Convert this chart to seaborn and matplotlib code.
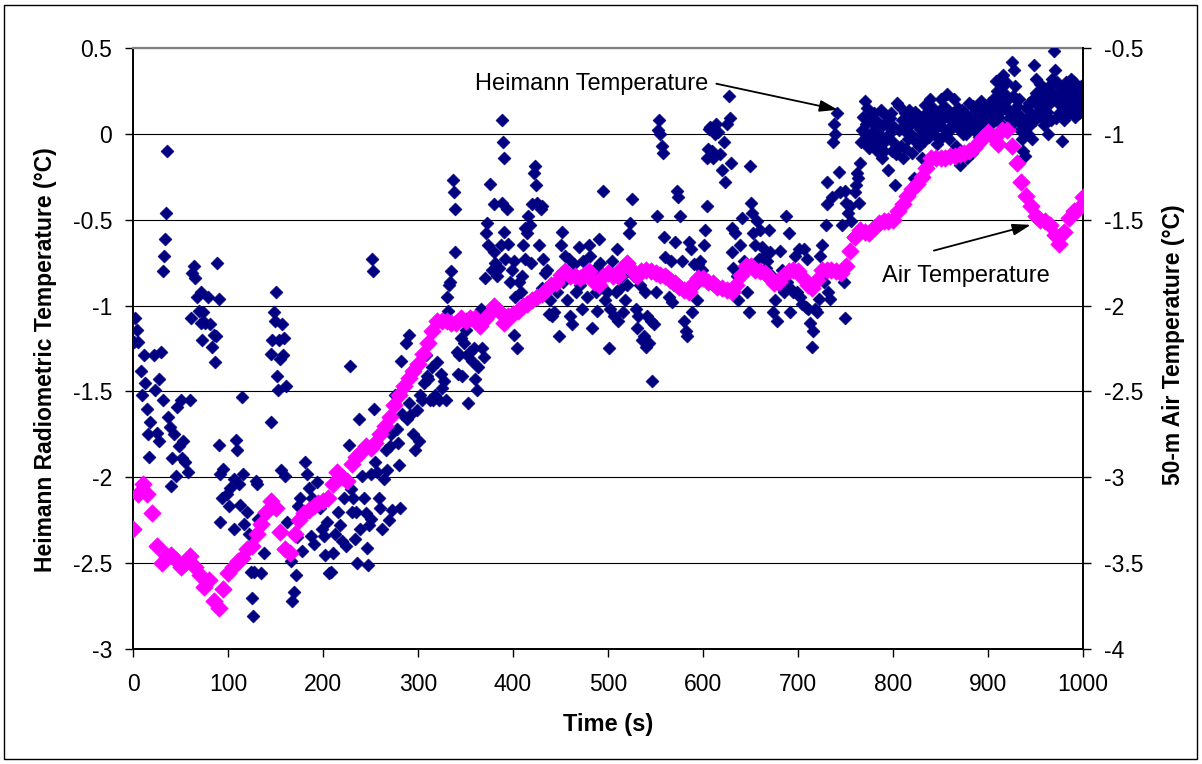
"""Heimann radiometric temperature vs 50-m air temperature over a 1000 s run.

Navy diamonds: Heimann radiometric temperature (left axis).
Magenta diamonds: 50-m air temperature (right axis).
"""

import matplotlib

matplotlib.use("Agg")
import matplotlib.pyplot as plt
import numpy as np
import pandas as pd
import seaborn as sns
from matplotlib.patches import Rectangle
from matplotlib.ticker import FuncFormatter

OUTPUT = "out.png"
NAVY = "#000080"
MAGENTA = "#FF00FF"

# 50-m air temperature (degC, right axis), one reading every 5 s
AIR_TIME = np.arange(0, 1001, 5)
AIR_TEMP = [
    -3.30, -3.10, -3.04, -3.10, -3.21, -3.40, -3.50, -3.45, -3.45, -3.48,
    -3.52, -3.50, -3.46, -3.52, -3.57, -3.64, -3.60, -3.72, -3.76, -3.65,
    -3.56, -3.52, -3.49, -3.47, -3.42, -3.40, -3.33, -3.27, -3.20, -3.14,
    -3.18, -3.32, -3.42, -3.44, -3.33, -3.25, -3.21, -3.19, -3.17, -3.15,
    -3.14, -3.12, -3.04, -2.97, -3.00, -3.02, -2.92, -2.88, -2.85, -2.82,
    -2.83, -2.80, -2.75, -2.70, -2.65, -2.58, -2.52, -2.47, -2.42, -2.38,
    -2.34, -2.28, -2.22, -2.15, -2.09, -2.09, -2.09, -2.10, -2.10, -2.07,
    -2.09, -2.07, -2.07, -2.12, -2.08, -2.05, -2.00, -2.03, -2.10, -2.06,
    -2.05, -2.03, -2.00, -1.99, -1.97, -1.95, -1.93, -1.91, -1.88, -1.87,
    -1.82, -1.80, -1.83, -1.83, -1.84, -1.82, -1.80, -1.86, -1.88, -1.83,
    -1.81, -1.83, -1.83, -1.78, -1.75, -1.79, -1.83, -1.80, -1.79, -1.80,
    -1.81, -1.82, -1.83, -1.85, -1.87, -1.89, -1.91, -1.92, -1.87, -1.84,
    -1.84, -1.86, -1.87, -1.89, -1.90, -1.91, -1.92, -1.88, -1.82, -1.77,
    -1.77, -1.79, -1.80, -1.81, -1.84, -1.87, -1.86, -1.82, -1.80, -1.79,
    -1.80, -1.84, -1.88, -1.90, -1.85, -1.79, -1.79, -1.79, -1.80, -1.81,
    -1.77, -1.68, -1.60, -1.56, -1.57, -1.58, -1.55, -1.52, -1.51, -1.51,
    -1.50, -1.45, -1.41, -1.36, -1.32, -1.29, -1.25, -1.20, -1.14, -1.14,
    -1.14, -1.14, -1.13, -1.13, -1.12, -1.11, -1.10, -1.08, -1.05, -1.02,
    -0.99, -1.02, -1.06, -0.98, -0.98, -1.07, -1.17, -1.28, -1.36, -1.42,
    -1.48, -1.50, -1.51, -1.53, -1.59, -1.64, -1.57, -1.49, -1.45, -1.44,
    -1.37,
]

# Heimann radiometric temperature (degC, left axis) as (time s, temperature)
HEIMANN_READINGS = [
    # 0-200 s
    (1, -1.21), (2, -1.07), (4, -1.14), (5, -1.21), (8, -1.38), (9, -1.52),
    (11, -1.29), (13, -1.45), (15, -1.60), (16, -1.75), (17, -1.88), (18, -1.68),
    (22, -1.29), (23, -1.49), (25, -1.74), (27, -1.79), (27, -1.43), (29, -1.27),
    (31, -1.55), (32, -0.80), (33, -0.71), (34, -0.61), (35, -0.46), (36, -0.10),
    (37, -1.65), (39, -1.71), (40, -2.05), (41, -1.89), (43, -1.75), (45, -1.99),
    (46, -1.59), (48, -1.82), (50, -1.55), (52, -1.89), (53, -1.79), (55, -1.91),
    (58, -1.97), (60, -1.55), (61, -1.07), (62, -0.81), (64, -0.77), (65, -0.84),
    (67, -0.95), (69, -1.03), (71, -0.92), (72, -1.10), (73, -1.20), (74, -1.04),
    (76, -1.10), (79, -0.95), (81, -1.11), (83, -1.24), (85, -1.17), (86, -1.33),
    (87, -1.18), (88, -0.75), (90, -0.96), (90, -1.81), (91, -2.26), (92, -1.98),
    (94, -2.12), (95, -1.95), (99, -2.10), (101, -2.17), (102, -2.06), (106, -2.01),
    (106, -2.30), (108, -1.78), (109, -1.84), (111, -2.04), (113, -2.16), (115, -1.53),
    (116, -1.98), (117, -2.27), (120, -2.20), (122, -2.33), (124, -2.55), (125, -2.70),
    (126, -2.81), (127, -2.55), (129, -2.02), (130, -2.04), (131, -2.24), (134, -2.28),
    (135, -2.56), (138, -2.44), (139, -2.21), (145, -1.68), (145, -1.28), (146, -1.20),
    (148, -1.04), (149, -1.09), (150, -0.92), (152, -1.41), (153, -1.49), (154, -1.20),
    (155, -1.31), (156, -1.96), (157, -1.11), (158, -1.29), (159, -1.19), (160, -1.99),
    (161, -1.47), (162, -2.26), (166, -2.49), (167, -2.72), (169, -2.67), (171, -2.57),
    (173, -2.35), (174, -2.17), (176, -2.12), (178, -2.43), (181, -1.91), (183, -1.98),
    (185, -2.06), (187, -2.34), (188, -2.12), (190, -2.39), (194, -2.03), (197, -2.18),
    (199, -2.30),
    # 200-400 s
    (201, -2.34), (202, -2.45), (204, -2.26), (206, -2.56), (208, -2.55), (211, -2.44),
    (213, -2.33), (216, -2.20), (218, -2.28), (220, -2.37), (222, -2.12), (224, -2.40),
    (227, -1.81), (228, -1.35), (229, -2.07), (231, -2.20), (232, -2.12), (234, -2.36),
    (235, -2.20), (236, -2.50), (238, -1.66), (239, -2.30), (241, -1.99), (243, -2.12),
    (245, -2.21), (246, -2.41), (247, -2.51), (248, -2.28), (250, -1.98), (251, -2.24),
    (252, -0.73), (253, -0.80), (254, -1.60), (255, -1.91), (257, -1.97), (259, -2.12),
    (260, -2.18), (262, -2.30), (264, -2.01), (266, -1.84), (267, -1.96), (269, -2.25),
    (271, -1.82), (272, -1.75), (273, -2.19), (276, -1.52), (278, -1.72), (279, -1.80),
    (280, -1.93), (281, -2.18), (282, -1.32), (283, -1.63), (287, -1.22), (288, -1.66),
    (290, -1.17), (291, -1.57), (292, -1.64), (295, -1.75), (297, -1.84), (299, -1.61),
    (301, -1.79), (302, -1.52), (304, -1.55), (306, -1.45), (308, -1.29), (309, -1.41),
    (311, -1.43), (313, -1.55), (315, -1.36), (316, -1.55), (318, -1.52), (320, -1.33),
    (322, -1.55), (324, -1.40), (325, -1.48), (327, -1.44), (329, -1.55), (331, -0.95),
    (332, -1.03), (333, -0.88), (334, -0.86), (335, -0.80), (337, -0.27), (338, -0.34),
    (339, -0.44), (339, -0.69), (340, -1.11), (341, -1.27), (342, -1.40), (343, -1.29),
    (345, -1.19), (346, -1.41), (348, -1.22), (350, -1.14), (352, -1.29), (353, -1.57),
    (355, -1.27), (357, -1.32), (359, -1.25), (360, -1.43), (362, -1.49), (363, -1.36),
    (366, -1.02), (367, -1.25), (369, -1.30), (371, -0.84), (372, -0.58), (373, -0.52),
    (374, -0.65), (376, -0.29), (378, -0.79), (380, -0.41), (380, -0.69), (381, -0.75),
    (383, -0.83), (385, -0.78), (387, -0.65), (388, -0.40), (388, 0.08), (389, -0.05),
    (390, -0.14), (391, -0.57), (392, -0.73), (394, -0.44), (395, -0.64), (397, -0.86),
    (399, -0.79),
    # 400-600 s
    (401, -0.74), (401, -1.17), (402, -0.95), (404, -1.25), (406, -0.86), (408, -0.92),
    (409, -0.83), (411, -0.65), (413, -0.55), (413, -0.73), (415, -0.58), (416, -0.48),
    (418, -0.53), (419, -0.75), (420, -0.41), (422, -0.23), (423, -0.19), (424, -0.30),
    (425, -0.40), (427, -0.65), (429, -0.44), (431, -0.42), (431, -0.90), (432, -0.73),
    (434, -0.81), (436, -0.79), (438, -1.05), (439, -0.97), (441, -1.06), (443, -1.04),
    (446, -0.92), (448, -1.18), (450, -0.65), (452, -0.57), (453, -0.86), (455, -0.71),
    (457, -0.97), (459, -0.73), (460, -1.06), (462, -1.11), (464, -0.76), (466, -0.92),
    (467, -0.83), (469, -0.66), (471, -0.88), (473, -1.02), (474, -0.74), (476, -0.83),
    (478, -0.95), (480, -0.65), (481, -0.71), (483, -1.13), (485, -0.79), (487, -0.92),
    (488, -1.03), (490, -0.61), (492, -0.75), (494, -0.81), (495, -0.33), (497, -0.97),
    (499, -0.92), (501, -1.25), (502, -1.02), (504, -0.74), (506, -1.06), (508, -0.92),
    (509, -0.67), (511, -1.09), (513, -0.90), (515, -0.83), (516, -1.04), (518, -0.97),
    (520, -0.88), (522, -0.58), (523, -0.52), (525, -0.38), (527, -0.83), (529, -1.02),
    (531, -1.13), (532, -1.06), (534, -0.88), (536, -1.20), (538, -1.18), (539, -0.92),
    (540, -1.24), (541, -1.06), (543, -1.22), (545, -1.09), (546, -1.44), (548, -1.11),
    (550, -0.92), (552, -0.48), (553, 0.02), (554, 0.08), (555, 0.00), (557, -0.07),
    (558, -0.11), (559, -0.60), (560, -0.72), (562, -0.83), (564, -0.95), (566, -0.74),
    (567, -0.98), (569, -0.88), (571, -0.63), (573, -0.33), (574, -0.37), (576, -0.48),
    (578, -0.74), (580, -1.09), (582, -1.15), (583, -1.18), (585, -0.63), (587, -0.67),
    (588, -1.04), (590, -0.76), (592, -0.88), (594, -0.97), (595, -0.76), (597, -0.74),
    (599, -0.79),
    # 600-800 s
    (601, -0.65), (602, -0.56), (604, -0.42), (604, -0.14), (605, -0.09), (606, 0.03),
    (607, 0.04), (609, -0.10), (611, -0.14), (613, 0.00), (614, 0.06), (616, 0.01),
    (618, -0.12), (620, -0.21), (622, -0.05), (623, -0.28), (625, 0.06), (627, 0.22),
    (628, 0.09), (629, -0.17), (630, -0.55), (631, -0.69), (632, -0.78), (634, -0.58),
    (636, -0.83), (637, -0.97), (639, -0.65), (641, -0.49), (643, -0.74), (646, -0.92),
    (648, -1.04), (649, -0.19), (650, -0.40), (652, -0.46), (653, -0.58), (655, -0.65),
    (657, -0.51), (659, -0.73), (660, -0.56), (662, -0.66), (664, -0.71), (666, -0.78),
    (667, -0.74), (669, -0.56), (671, -0.69), (673, -0.83), (674, -1.04), (676, -0.97),
    (678, -1.09), (680, -0.88), (681, -0.68), (683, -0.79), (685, -0.92), (687, -0.48),
    (688, -0.86), (690, -0.58), (692, -1.04), (694, -0.91), (695, -0.92), (697, -0.71),
    (699, -0.92), (701, -0.67), (702, -0.95), (704, -0.99), (706, -0.67), (708, -1.01),
    (709, -0.73), (711, -1.02), (713, -1.10), (715, -1.24), (716, -1.15), (718, -1.02),
    (720, -1.04), (722, -0.96), (723, -0.71), (725, -0.65), (727, -0.86), (729, -0.53),
    (730, -0.28), (731, -0.41), (732, -0.92), (734, -0.96), (736, -0.37), (737, -0.05),
    (738, 0.06), (739, 0.00), (741, 0.12), (743, -0.22), (744, -0.34), (746, -0.53),
    (748, -0.86), (749, -1.07), (749, -0.33), (751, -0.40), (753, -0.46), (755, -0.42),
    (756, -0.51), (758, -0.60), (760, -0.34), (761, -0.30), (762, -0.23), (763, -0.26),
    (764, -0.40), (765, -0.17), (766, -0.05), (767, 0.02), (768, 0.10), (769, -0.05),
    (770, 0.19), (771, 0.00), (772, 0.06), (773, 0.15), (774, -0.03), (775, -0.08),
    (776, 0.11), (777, 0.08), (778, 0.01), (779, -0.07), (780, 0.12), (781, 0.05),
    (782, -0.02), (783, -0.10), (784, 0.07), (785, 0.00), (786, -0.06), (787, 0.14),
    (788, -0.14), (789, 0.05), (790, -0.05), (791, -0.10), (792, 0.11), (793, 0.06),
    (794, -0.02), (795, -0.21), (796, 0.00), (797, 0.09), (798, 0.12), (799, -0.10),
    # 800-1000 s
    (800, -0.05), (801, 0.04), (802, -0.30), (803, -0.12), (804, 0.18), (805, -0.08),
    (806, 0.02), (806, 0.16), (808, -0.07), (809, 0.08), (811, -0.14), (812, 0.02),
    (813, 0.12), (814, -0.09), (815, 0.04), (816, -0.03), (817, 0.14), (818, 0.09),
    (819, 0.00), (820, -0.11), (821, 0.07), (822, -0.26), (823, 0.13), (824, -0.05),
    (825, 0.06), (826, 0.11), (827, -0.07), (828, 0.03), (829, 0.00), (830, -0.14),
    (831, 0.06), (832, 0.10), (833, -0.04), (834, 0.17), (835, 0.12), (836, 0.02),
    (837, 0.08), (838, -0.02), (839, 0.20), (840, 0.07), (841, 0.13), (842, 0.15),
    (843, 0.00), (844, 0.10), (845, 0.04), (846, -0.06), (847, 0.10), (848, 0.05),
    (849, -0.03), (850, 0.13), (851, 0.20), (852, 0.08), (853, -0.14), (854, 0.16),
    (855, 0.02), (856, 0.00), (857, 0.23), (858, 0.10), (859, -0.03), (860, 0.13),
    (861, 0.03), (862, 0.05), (863, 0.12), (864, 0.20), (865, 0.06), (866, -0.07),
    (867, 0.04), (868, 0.15), (869, 0.08), (870, 0.02), (871, -0.18), (872, 0.09),
    (873, 0.14), (874, 0.00), (875, 0.13), (876, 0.06), (877, 0.00), (878, -0.14),
    (879, 0.07), (880, 0.18), (881, 0.10), (882, 0.04), (883, -0.11), (884, 0.16),
    (885, 0.02), (886, 0.06), (887, 0.14), (888, 0.09), (889, 0.15), (890, -0.02),
    (891, 0.03), (892, 0.13), (893, 0.19), (894, 0.05), (895, 0.12), (896, 0.08),
    (897, 0.02), (898, 0.16), (899, 0.09), (900, 0.02), (901, 0.18), (902, 0.05),
    (903, 0.13), (904, 0.11), (905, 0.08), (906, 0.21), (907, 0.15), (908, 0.31),
    (909, 0.25), (910, 0.10), (911, 0.18), (912, 0.22), (913, 0.13), (914, 0.06),
    (915, 0.27), (916, 0.34), (917, 0.17), (918, 0.23), (919, 0.30), (920, 0.14),
    (921, 0.20), (922, 0.09), (923, 0.13), (924, 0.05), (925, 0.42), (926, 0.22),
    (927, 0.37), (928, 0.28), (929, 0.20), (930, 0.16), (931, 0.12), (932, 0.08),
    (933, 0.20), (934, 0.02), (935, 0.10), (936, -0.03), (937, -0.10), (938, 0.05),
    (939, -0.13), (940, 0.15), (941, 0.09), (942, 0.00), (943, 0.18), (944, 0.05),
    (945, 0.12), (946, -0.03), (947, 0.20), (948, 0.40), (949, 0.08), (950, 0.32),
    (951, 0.24), (952, 0.12), (953, 0.16), (954, 0.20), (955, 0.29), (956, 0.10),
    (957, 0.15), (958, 0.22), (959, 0.05), (960, 0.26), (961, 0.20), (962, 0.13),
    (963, 0.00), (964, 0.28), (965, 0.18), (966, 0.08), (967, 0.32), (968, 0.24),
    (969, 0.48), (970, 0.22), (971, 0.37), (972, 0.09), (973, 0.30), (974, 0.18),
    (975, 0.12), (976, 0.27), (977, 0.20), (978, -0.04), (979, 0.25), (980, 0.08),
    (981, 0.16), (982, 0.30), (983, 0.22), (984, 0.20), (985, 0.12), (986, 0.26),
    (987, 0.32), (988, 0.14), (989, 0.18), (990, 0.25), (991, 0.30), (992, 0.10),
    (993, 0.15), (994, 0.20), (995, 0.27), (996, 0.12), (997, 0.17), (998, 0.28),
    (999, 0.22),
]

X_TICKS = list(range(0, 1001, 100))
LEFT_TICKS = [-3, -2.5, -2, -1.5, -1, -0.5, 0, 0.5]
RIGHT_TICKS = [-4, -3.5, -3, -2.5, -2, -1.5, -1, -0.5]


def plain_number(value, _pos):
    return f"{value:g}"


def style_axes(ax, ax2) -> None:
    ax.set_xlim(0, 1000)
    ax.set_ylim(-3, 0.5)
    ax2.set_ylim(-4, -0.5)
    ax.set_xticks(X_TICKS)
    ax.set_yticks(LEFT_TICKS)
    ax2.set_yticks(RIGHT_TICKS)
    for axis in (ax.xaxis, ax.yaxis, ax2.yaxis):
        axis.set_major_formatter(FuncFormatter(plain_number))

    ax.set_axisbelow(True)
    ax.yaxis.grid(True, color="black", linewidth=0.8)
    ax.xaxis.grid(False)

    ax.tick_params(axis="both", direction="out", length=6, width=1,
                   colors="black", labelsize=16.5, left=True, bottom=True,
                   right=False, top=False)
    ax.tick_params(axis="y", pad=9)
    ax.tick_params(axis="x", pad=11)
    ax2.tick_params(axis="y", direction="out", length=6, width=1,
                    colors="black", labelsize=16.5, pad=9, right=True, left=False)

    ax.spines["top"].set_color("#808080")
    ax.spines["top"].set_linewidth(1.6)
    for side in ("left", "bottom"):
        ax.spines[side].set_color("black")
        ax.spines[side].set_linewidth(1.4)
    ax.spines["right"].set_visible(False)
    for side in ("left", "bottom", "top"):
        ax2.spines[side].set_visible(False)
    ax2.spines["right"].set_color("black")
    ax2.spines["right"].set_linewidth(1.4)


def label_axes(ax, ax2) -> None:
    ax.set_xlabel("Time (s)", fontsize=17, fontweight="bold", color="black")
    ax.xaxis.set_label_coords(0.5, -0.126)
    ax.xaxis.label.set_va("center")

    ax.set_ylabel("Heimann Radiometric Temperature (°C)", fontsize=16.5,
                  fontweight="bold", color="black")
    ax.yaxis.set_label_coords(-0.0926, 0.481)
    ax.yaxis.label.set_va("center")

    ax2.set_ylabel("50-m Air Temperature (°C)", fontsize=16.5,
                   fontweight="bold", color="black", rotation=90)
    ax2.yaxis.set_label_coords(1.095, 0.507)
    ax2.yaxis.label.set_va("center")


def annotate(ax, ax2) -> None:
    arrow = dict(arrowstyle="-|>,head_length=1.0,head_width=0.32",
                 color="black", lw=1.3, shrinkA=0, shrinkB=0,
                 mutation_scale=11)
    # drawn on the top axes so they sit over both series, in left-axis units
    ax2.text(360, 0.29, "Heimann Temperature", transform=ax.transData,
             fontsize=17, ha="left", va="center", color="black")
    ax2.annotate("", xy=(742, 0.14), xytext=(614, 0.292),
                 xycoords=ax.transData, textcoords=ax.transData,
                 arrowprops=arrow)
    ax2.text(788, -0.83, "Air Temperature", transform=ax.transData,
             fontsize=17, ha="left", va="center", color="black")
    ax2.annotate("", xy=(945, -0.53), xytext=(843, -0.68),
                 xycoords=ax.transData, textcoords=ax.transData,
                 arrowprops=arrow)


def main() -> None:
    sns.set_theme(style="white")
    plt.rcParams["font.family"] = ["Liberation Sans", "DejaVu Sans"]
    plt.rcParams["axes.unicode_minus"] = False

    heimann = pd.DataFrame(HEIMANN_READINGS, columns=["time", "temp"])
    air = pd.DataFrame({"time": AIR_TIME, "temp": AIR_TEMP})

    fig = plt.figure(figsize=(12.02, 7.64), dpi=100)
    ax = fig.add_axes([0.1107, 0.1505, 0.7903, 0.7867])
    ax2 = ax.twinx()

    sns.scatterplot(data=heimann, x="time", y="temp", ax=ax, marker="D",
                    s=44, color=NAVY, edgecolor=NAVY, linewidth=0.4,
                    legend=False, zorder=3)
    sns.scatterplot(data=air, x="time", y="temp", ax=ax2, marker="D",
                    s=80, color=MAGENTA, edgecolor=MAGENTA, linewidth=0.4,
                    legend=False, zorder=3)

    style_axes(ax, ax2)
    label_axes(ax, ax2)
    annotate(ax, ax2)

    fig.patches.append(Rectangle((0.0033, 0.0065), 0.9925, 0.987,
                                 transform=fig.transFigure, fill=False,
                                 edgecolor="black", linewidth=1.0))
    fig.savefig(OUTPUT, dpi=100)
    plt.close(fig)


if __name__ == "__main__":
    main()
